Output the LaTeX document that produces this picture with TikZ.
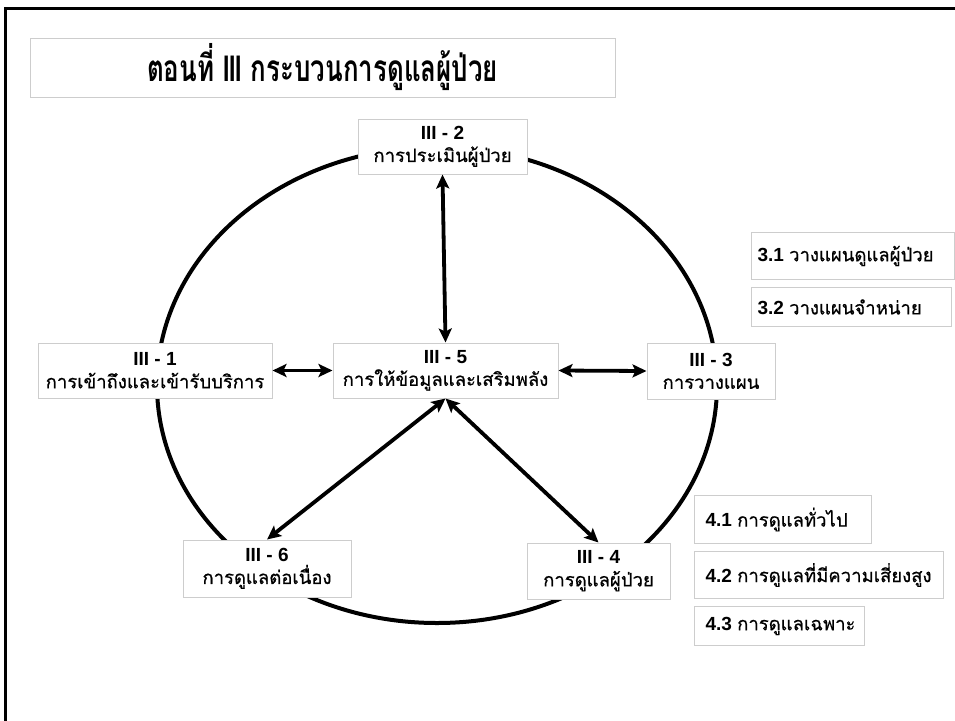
\documentclass[tikz,border=0pt]{standalone}
\usepackage{fontspec}
\setmainfont{Liberation Sans}
\newfontfamily\thai[Script=Thai,FakeBold=0.6]{Loma}
\newfontfamily\thaititle[Script=Thai,FakeStretch=0.7]{Loma}
\newfontfamily\latintitle[FakeStretch=0.62]{Liberation Sans}
\usetikzlibrary{arrows.meta}
\definecolor{boxgray}{RGB}{205,205,205}
\newcommand{\thtxt}[1]{{\thai\fontsize{18.5}{22.5}\selectfont #1}}
\newcommand{\subtxt}[2]{\makebox[#1][l]{#2}}
\tikzset{
  box/.style={draw=boxgray, line width=1pt, fill=white, align=center, inner sep=0pt,
    font=\fontsize{19}{22.5}\selectfont},
  sub/.style={draw=boxgray, line width=1pt, fill=white, inner xsep=11pt, inner ysep=0pt,
    anchor=north west, font=\fontsize{19}{20}\selectfont},
  arr/.style={line width=3.8pt, {Stealth[length=14pt,width=13pt,inset=3pt]}-{Stealth[length=14pt,width=13pt,inset=3pt]}},
}
\begin{document}
\begin{tikzpicture}[x=1pt,y=-1pt]
\fill[white] (0,0) rectangle (955,720);
\useasboundingbox (0,0) rectangle (955,720);
\begin{scope}
\clip (0,0) rectangle (955,720);
\draw[line width=3pt] (5.5,8.5) rectangle (990,760);
\end{scope}
% ellipse
\draw[line width=4pt] (437,385) ellipse [x radius=280, y radius=238];
% title
\node[box, minimum width=585pt, minimum height=59pt, font=\fontsize{37}{40}\selectfont] (title) at (322.5,67.5)
  {\thaititle\bfseries ตอนที่ {\latintitle\bfseries III} กระบวนการดูแลผู้ป่วย};
% main boxes
\node[box, minimum width=169pt, minimum height=55pt] (c2) at (442.5,146.5) {\textbf{III - 2}\\\thtxt{การประเมินผู้ป่วย}};
\node[box, minimum width=234pt, minimum height=55pt] (c1) at (155,370.5) {\textbf{III - 1}\\\thtxt{การเข้าถึงและเข้ารับบริการ}};
\node[box, minimum width=225pt, minimum height=55pt] (c5) at (445.5,370.5) {\textbf{III - 5}\\\thtxt{การให้ข้อมูลและเสริมพลัง}};
\node[box, minimum width=128pt, minimum height=56pt] (c3) at (711,371) {\textbf{III - 3}\\\thtxt{การวางแผน}};
\node[box, minimum width=168pt, minimum height=57pt] (c6) at (267,568.5) {\textbf{III - 6}\\\thtxt{การดูแลต่อเนื่อง}};
\node[box, minimum width=143pt, minimum height=56pt] (c4) at (598.5,571) {\textbf{III - 4}\\\thtxt{การดูแลผู้ป่วย}};
% sub boxes
\node[sub, inner xsep=6pt, minimum height=47pt] (s31) at (751,232) {\subtxt{191pt}{\textbf{3.1} \thtxt{วางแผนดูแลผู้ป่วย}}};
\node[sub, inner xsep=6pt, minimum height=39pt] (s32) at (751,287) {\subtxt{188pt}{\textbf{3.2} \thtxt{วางแผนจำหน่าย}}};
\node[sub, minimum height=48pt] (s41) at (694,495) {\subtxt{155pt}{\textbf{4.1} \thtxt{การดูแลทั่วไป}}};
\node[sub, minimum height=47pt] (s42) at (694,551) {\subtxt{227pt}{\textbf{4.2} \thtxt{การดูแลที่มีความเสี่ยงสูง}}};
\node[sub, minimum height=39pt] (s43) at (694,606) {\subtxt{148pt}{\textbf{4.3} \thtxt{การดูแลเฉพาะ}}};
% arrows
\draw[arr] (c2.south) -- (c5.north);
\draw[arr] (c1.east) -- (c5.west);
\draw[arr] (c5.east) -- (c3.west);
\draw[arr] (c5.south) -- (c6.north);
\draw[arr] (c5.south) -- (c4.north);
\end{tikzpicture}
\end{document}
